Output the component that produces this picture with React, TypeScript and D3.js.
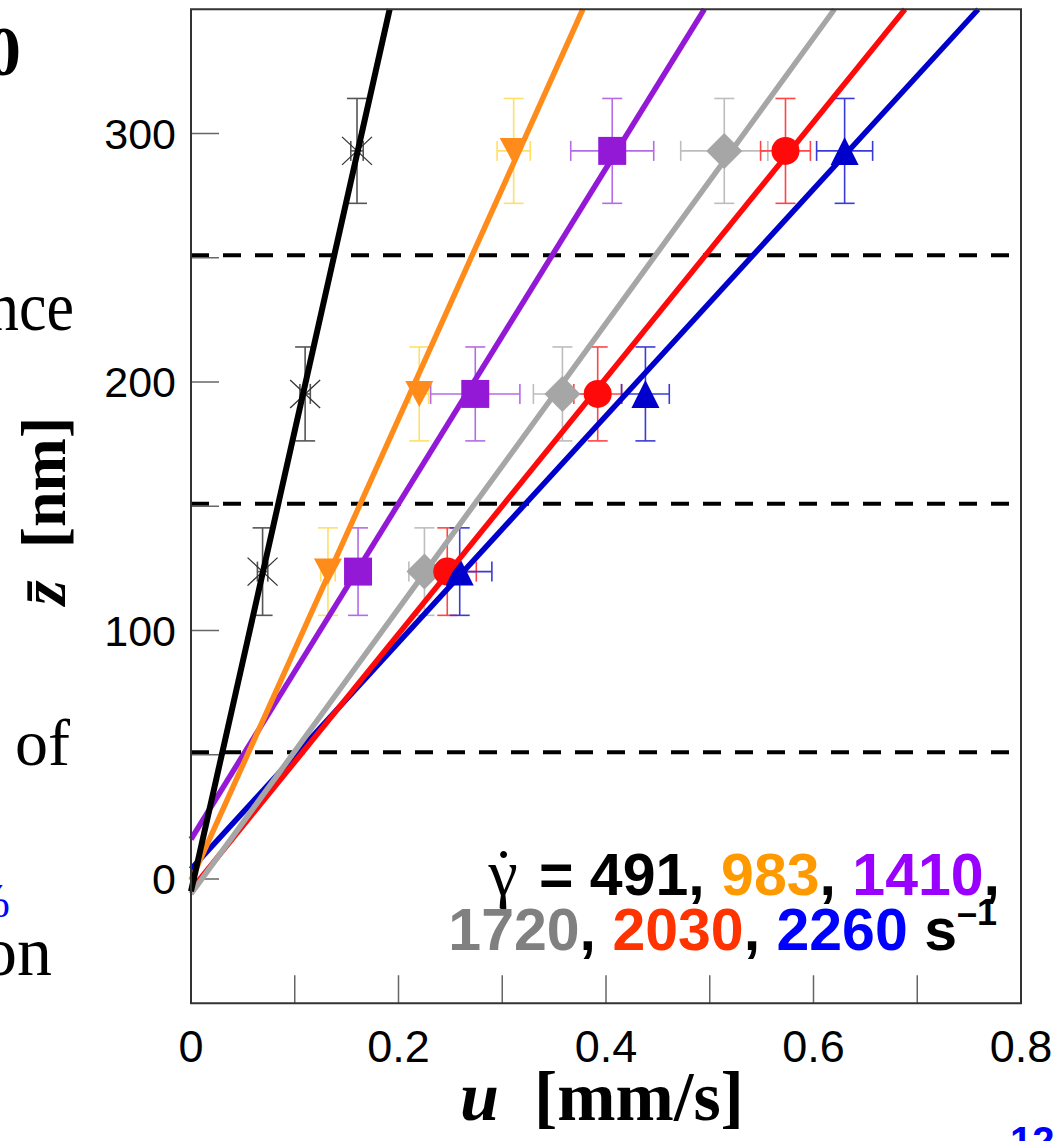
import React from "react";
import * as d3 from "d3";

// ---------- data ----------
const shearRates = ["491", "983", "1410", "1720", "2030", "2260"];
const depthZ = [123.7, 195.2, 293.0];
const depthZErr = [17.6, 18.9, 21.1];

const u491 = [0.069, 0.110, 0.160];
const u983 = [0.132, 0.220, 0.311];
const u1410 = [0.161, 0.274, 0.406];
const u1720 = [0.225, 0.358, 0.514];
const u2030 = [0.247, 0.392, 0.573];
const u2260 = [0.259, 0.438, 0.630];

const uErr491 = [0.005, 0.005, 0.006];
const uErr983 = [0.007, 0.009, 0.016];
const uErr1410 = [0.010, 0.043, 0.040];
const uErr1720 = [0.015, 0.028, 0.042];
const uErr2030 = [0.028, 0.023, 0.024];
const uErr2260 = [0.031, 0.023, 0.027];

// linear fits z = z0 + k*u
const fitSlopes = [1854, 928, 675, 574, 515, 456];
const fitIntercepts = [-5, -0.5, 16, -6, -4.4, 4];

const xTicks = [0, 0.2, 0.4, 0.6, 0.8];
const xMinorTicks = [0.1, 0.2, 0.3, 0.4, 0.5, 0.6, 0.7];
const yTicks = [0, 100, 200, 300];
const yMinorTicks = [50, 150, 250];
const layerBounds = [51, 151, 251];

// ---------- styles ----------
const lineColors = ["#000000", "#ff8c1a", "#9419d6", "#a6a6a6", "#ff0a0a", "#0000cc"];
const errColors = ["#555555", "#ffe066", "#b56be6", "#bdbdbd", "#ff4545", "#3a3ad8"];
const legendColors = ["#000000", "#ff9900", "#9900ff", "#808080", "#ff3300", "#0000ff"];
const markerTypes = ["x", "tdown", "square", "diamond", "circle", "tup"];

const uSeries = [u491, u983, u1410, u1720, u2030, u2260];
const uErrSeries = [uErr491, uErr983, uErr1410, uErr1720, uErr2030, uErr2260];

const W = 1063;
const H = 1141;
const L = 191, R = 1021, T = 9.25, B = 1003.25;

const SANS = "'Liberation Sans', Arial, sans-serif";
const SERIF = "'Liberation Serif', 'Times New Roman', serif";

function markerPath(type: string, cx: number, cy: number): string {
  const p = d3.path();
  if (type === "square") {
    p.rect(cx - 14, cy - 14, 28, 28);
  } else if (type === "diamond") {
    p.moveTo(cx, cy - 18); p.lineTo(cx + 18, cy); p.lineTo(cx, cy + 18); p.lineTo(cx - 18, cy); p.closePath();
  } else if (type === "circle") {
    p.arc(cx, cy, 14, 0, Math.PI * 2);
  } else if (type === "tup") {
    p.moveTo(cx, cy - 14); p.lineTo(cx + 14, cy + 14); p.lineTo(cx - 14, cy + 14); p.closePath();
  } else if (type === "tdown") {
    p.moveTo(cx - 14, cy - 13); p.lineTo(cx + 14, cy - 13); p.lineTo(cx, cy + 13); p.closePath();
  }
  return p.toString();
}

export default function App() {
  const x = d3.scaleLinear().domain([0, 0.8]).range([L, R]);
  const y = d3.scaleLinear().domain([-50, 350]).range([B, T]);

  const line = d3
    .line<[number, number]>()
    .x((d) => x(d[0]))
    .y((d) => y(d[1]));

  const fitLines = fitSlopes.map((k, i) => {
    const z0 = fitIntercepts[i];
    const uEnd = (350 - z0) / k;
    return line([
      [0, z0],
      [uEnd, 350],
    ]) as string;
  });

  const cap = 10;

  return (
    <svg
      width={W}
      height={H}
      style={{ position: "absolute", left: 0, top: 0, background: "#fff" }}
    >
      <rect x={0} y={0} width={W} height={H} fill="#fff" />

      {/* page fragments on the left */}
      <text x={21} y={75} textAnchor="end" fontFamily={SERIF} fontWeight="bold" fontSize={70}>0</text>
      <text transform="translate(74,330) scale(1,1.12)" textAnchor="end" fontFamily={SERIF} fontSize={62}>nce</text>
      <text x={70} y={765} textAnchor="end" fontFamily={SERIF} fontSize={66}>of</text>
      <text x={10} y={917} textAnchor="end" fontFamily={SERIF} fontSize={48} fill="#0000ff">%</text>
      <text x={52} y={975} textAnchor="end" fontFamily={SERIF} fontSize={70}>on</text>
      <text x={1010} y={1155} fontFamily={SANS} fontWeight="bold" fontSize={40} fill="#0000ff">12</text>

      {/* dashed layer boundaries */}
      {layerBounds.map((z) => (
        <line key={"d" + z} x1={L} x2={R} y1={y(z)} y2={y(z)} stroke="#000" strokeWidth={4} strokeDasharray="18 14" />
      ))}

      {/* ticks */}
      {yTicks.concat(yMinorTicks).map((t) => (
        <line key={"yt" + t} x1={L} x2={L + 28} y1={y(t)} y2={y(t)} stroke="#666" strokeWidth={1.5} />
      ))}
      {xMinorTicks.map((t) => (
        <line key={"xt" + t} x1={x(t)} x2={x(t)} y1={B} y2={B - 28} stroke="#666" strokeWidth={1.5} />
      ))}

      {/* error bars */}
      {uSeries.map((us, s) =>
        us.map((u, j) => {
          const cx = x(u);
          const cy = y(depthZ[j]);
          const ey0 = y(depthZ[j] - depthZErr[j]);
          const ey1 = y(depthZ[j] + depthZErr[j]);
          const ex0 = x(u - uErrSeries[s][j]);
          const ex1 = x(u + uErrSeries[s][j]);
          const c = errColors[s];
          return (
            <g key={"e" + s + "-" + j} stroke={c} strokeWidth={1.6} fill="none">
              <line x1={cx} x2={cx} y1={ey0} y2={ey1} />
              <line x1={cx - cap} x2={cx + cap} y1={ey0} y2={ey0} />
              <line x1={cx - cap} x2={cx + cap} y1={ey1} y2={ey1} />
              <line x1={ex0} x2={ex1} y1={cy} y2={cy} />
              <line x1={ex0} x2={ex0} y1={cy - cap} y2={cy + cap} />
              <line x1={ex1} x2={ex1} y1={cy - cap} y2={cy + cap} />
            </g>
          );
        })
      )}

      {/* markers */}
      {uSeries.map((us, s) =>
        us.map((u, j) => {
          const cx = x(u);
          const cy = y(depthZ[j]);
          const type = markerTypes[s];
          if (type === "x") {
            return (
              <g key={"m" + s + "-" + j} stroke="#333" strokeWidth={1.3}>
                <line x1={cx - 15} y1={cy - 14} x2={cx + 15} y2={cy + 14} />
                <line x1={cx - 15} y1={cy + 14} x2={cx + 15} y2={cy - 14} />
              </g>
            );
          }
          return <path key={"m" + s + "-" + j} d={markerPath(type, cx, cy)} fill={lineColors[s]} />;
        })
      )}

      {/* fit lines */}
      {[5, 4, 3, 2, 1, 0].map((i) => (
        <path key={"l" + i} d={fitLines[i]} stroke={lineColors[i]} strokeWidth={i === 0 ? 6 : 5.5} fill="none" />
      ))}

      {/* frame */}
      <rect x={L} y={T} width={R - L} height={B - T} fill="none" stroke="#333" strokeWidth={2} />

      {/* tick labels */}
      {yTicks.map((t) => (
        <text key={"yl" + t} x={176} y={y(t) + 15} textAnchor="end" fontFamily={SANS} fontSize={43}>
          {t}
        </text>
      ))}
      {xTicks.map((t) => (
        <text key={"xl" + t} x={x(t)} y={1062} textAnchor="middle" fontFamily={SANS} fontSize={45}>
          {t === 0 ? "0" : String(t)}
        </text>
      ))}

      {/* axis labels */}
      <text
        transform={`translate(65, 511) rotate(-90)`}
        textAnchor="middle"
        fontFamily={SERIF}
        fontWeight="bold"
        fontSize={64}
      >
        <tspan fontStyle="italic">{"z\u0304"}</tspan>
        <tspan>{"\u00a0\u00a0[nm]"}</tspan>
      </text>
      <text x={602} y={1120} textAnchor="middle" fontFamily={SERIF} fontWeight="bold" fontSize={70}>
        <tspan fontStyle="italic">u</tspan>
        <tspan>{"\u00a0\u00a0[mm/s]"}</tspan>
      </text>

      {/* legend */}
      <text x={1000} y={895} textAnchor="end" fontFamily={SANS} fontWeight="bold" fontSize={59}>
        <tspan fontFamily={SERIF} fontWeight="normal" fontSize={66}>{"\u03b3"}</tspan>
        <tspan fontFamily={SERIF} fontWeight="normal" fontSize={66} dx={-25}>{"\u02d9"}</tspan>
        <tspan dx={8}>{" = "}</tspan>
        <tspan fill={legendColors[0]}>{shearRates[0]}</tspan>
        <tspan>{", "}</tspan>
        <tspan fill={legendColors[1]}>{shearRates[1]}</tspan>
        <tspan>{", "}</tspan>
        <tspan fill={legendColors[2]}>{shearRates[2]}</tspan>
        <tspan>{","}</tspan>
      </text>
      <text x={997} y={950} textAnchor="end" fontFamily={SANS} fontWeight="bold" fontSize={59}>
        <tspan fill={legendColors[3]}>{shearRates[3]}</tspan>
        <tspan>{", "}</tspan>
        <tspan fill={legendColors[4]}>{shearRates[4]}</tspan>
        <tspan>{", "}</tspan>
        <tspan fill={legendColors[5]}>{shearRates[5]}</tspan>
        <tspan>{" s"}</tspan>
        <tspan fontSize={36} dy={-25}>{"\u20131"}</tspan>
      </text>
    </svg>
  );
}
